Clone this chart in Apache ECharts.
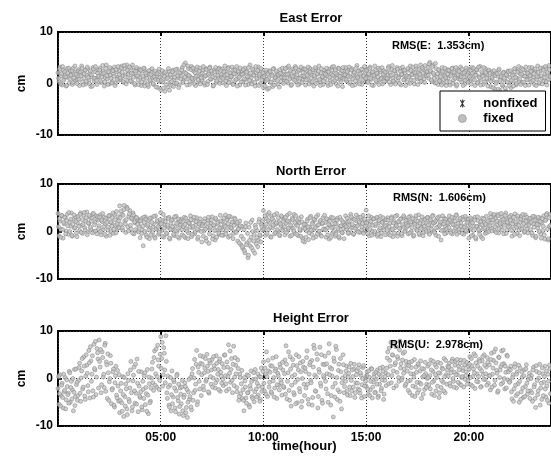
<!DOCTYPE html>
<html>
<head>
<meta charset="utf-8">
<script src="https://cdn.jsdelivr.net/npm/echarts@6/dist/echarts.min.js"></script>
<style>html,body{margin:0;padding:0;background:#fff;}#c{width:551px;height:459px;}</style>
</head>
<body>
<div id="c"></div>
<script>
// ---- data (cm), one row per hour, samples evenly spaced inside the hour ----
// set A: samples at h + j/20, set B: samples at h + (j+0.5)/20
const eastErr = [
[2.1,0.4,3.2,1.5,-0.3,2.6,0.9,1.8,-0.5,2.9,1.2,0.1,2.4,1.7,-0.2,3.0,0.6,2.2,1.4,0.8],
[2.7,-0.4,1.9,3.4,0.3,1.1,2.5,-0.1,1.6,2.9,0.7,2.0,-0.6,1.3,3.1,0.5,2.3,1.0,-0.2,2.6],
[1.4,3.0,0.2,1.8,2.4,-0.5,1.1,3.6,0.9,2.1,-0.1,1.6,2.8,0.4,1.9,3.2,0.0,2.3,1.2,0.6],
[2.5,0.8,3.4,1.5,0.2,2.9,1.7,3.6,0.6,2.2,1.0,3.1,0.3,1.9,2.6,-0.3,1.4,2.8,0.7,2.0],
[1.2,-0.4,2.4,0.9,2.9,0.1,1.6,2.2,-0.6,1.8,0.5,2.6,1.1,-0.2,2.0,0.8,1.5,-0.8,2.3,0.4],
[-1.2,1.6,0.3,2.1,-1.5,0.9,1.8,-0.7,2.4,0.2,1.3,-0.4,2.6,0.7,1.9,0.0,2.8,1.1,-0.3,2.0],
[1.4,3.1,0.5,2.2,4.0,0.9,1.7,2.9,-0.2,1.3,3.3,0.6,2.4,1.0,-0.4,2.7,1.5,0.3,3.0,1.8],
[0.7,2.5,1.2,-0.3,2.9,1.6,0.4,2.1,3.2,0.8,1.9,-0.5,2.6,1.1,0.2,2.3,1.4,3.0,0.6,1.7],
[2.8,0.1,1.5,2.4,-0.4,1.0,3.1,0.7,2.0,1.3,-0.1,2.7,0.5,1.8,3.3,0.9,2.2,-0.3,1.6,2.5],
[0.4,1.9,3.0,0.8,2.3,-0.2,1.4,3.6,1.1,0.3,2.6,1.7,-0.5,2.1,0.9,3.2,1.5,0.0,2.4,1.2],
[-0.8,1.6,0.5,2.2,-1.1,1.0,2.5,0.2,1.8,-0.6,2.9,0.7,1.3,2.0,-0.2,1.5,2.7,0.4,1.9,1.1],
[2.4,0.6,1.7,3.1,0.1,2.0,1.2,-0.4,2.8,0.9,1.5,3.3,0.3,2.2,1.0,-0.1,2.6,1.4,0.7,2.9],
[1.3,-0.3,2.5,0.8,1.9,3.0,0.2,1.6,2.3,-0.5,1.1,2.7,0.6,1.8,3.4,0.4,2.1,1.2,-0.2,2.6],
[0.9,2.2,1.5,-0.4,2.8,0.7,1.9,3.2,0.3,1.4,2.5,-0.1,1.7,3.0,0.8,2.0,1.1,-0.6,2.4,1.6],
[3.1,0.5,1.8,2.6,0.0,1.3,2.9,0.9,2.2,-0.3,1.6,3.5,1.0,0.2,2.4,1.5,-0.2,2.7,0.6,1.9],
[1.2,2.8,0.4,1.7,3.2,0.8,2.1,-0.4,1.4,2.6,0.3,1.9,3.0,0.7,2.3,1.1,-0.1,2.5,1.6,0.5],
[2.2,0.9,3.3,1.5,-0.2,2.7,1.0,0.4,2.4,1.8,3.1,0.6,1.3,2.9,-0.3,1.7,2.5,0.8,2.0,1.2],
[0.3,2.6,1.4,3.4,0.7,1.9,2.3,-0.1,1.6,3.0,0.9,2.2,1.1,3.6,0.5,2.8,1.5,0.2,2.4,1.8],
[3.2,1.0,4.1,2.3,0.4,3.6,1.7,0.1,2.9,1.2,-0.2,2.5,0.6,1.8,3.1,0.0,2.2,1.4,-0.4,2.7],
[1.1,2.4,-0.3,1.8,3.0,0.6,2.1,1.3,-0.5,2.7,0.9,1.6,3.2,0.3,2.0,1.2,-0.1,2.5,0.7,1.9],
[2.8,0.4,1.5,3.1,0.9,2.2,-0.4,1.7,2.6,0.2,1.3,3.3,0.8,2.0,-0.2,1.6,2.9,0.5,1.8,2.4],
[1.0,-0.6,2.3,0.7,1.6,-1.0,2.0,0.3,1.4,2.6,-1.3,0.9,1.8,-0.5,2.2,0.6,-1.5,1.5,2.4,0.1],
[1.2,-0.8,2.1,0.5,1.7,2.8,-0.3,1.0,2.4,0.4,1.9,3.0,0.2,1.5,2.6,-0.4,1.3,2.2,0.8,3.1],
[1.6,0.3,2.7,1.1,-0.2,2.3,0.8,3.4,1.4,0.0,2.5,1.0,3.0,0.5,1.8,2.9,-0.3,1.7,3.5,0.9]
];
const eastErrB = [
[1.0,2.8,-0.1,1.9,3.3,0.6,2.3,1.3,-0.4,2.0,3.0,0.9,1.6,2.5,0.2,1.1,3.4,1.8,0.0,2.4],
[0.8,2.2,1.5,3.0,-0.3,1.9,2.6,0.4,3.2,1.2,0.0,2.4,1.7,-0.5,2.8,1.0,3.3,0.6,2.0,1.4],
[2.6,0.5,1.3,3.5,2.0,0.3,2.9,1.5,-0.2,2.3,3.1,1.0,0.1,2.5,1.4,-0.4,2.7,0.8,3.3,1.7],
[1.1,3.0,2.2,0.4,3.5,1.3,-0.1,2.6,1.8,3.2,0.5,2.0,3.6,1.2,0.0,2.4,3.1,1.5,-0.2,2.8],
[2.6,0.3,1.4,3.0,-0.5,2.0,1.0,-0.2,2.5,0.7,1.7,2.9,0.0,1.3,2.4,-0.7,1.9,0.6,2.8,1.2],
[0.6,2.5,-0.9,1.4,2.2,-0.2,1.0,2.9,-1.3,1.7,0.4,2.3,-0.6,1.2,2.7,0.1,1.5,-0.8,2.1,0.9],
[2.6,0.2,3.6,1.2,2.0,-0.3,3.4,1.6,0.4,2.7,1.0,3.0,0.0,2.1,1.4,3.2,0.7,2.4,-0.1,1.1],
[2.0,3.3,0.1,1.5,2.7,-0.2,1.8,3.0,0.9,2.4,1.3,-0.4,2.2,3.1,0.5,1.6,2.8,0.0,2.5,1.2],
[1.0,2.3,3.4,0.5,1.7,2.9,0.2,2.1,1.4,3.2,-0.2,1.9,2.6,0.8,-0.5,2.4,1.2,3.0,0.3,1.8],
[2.7,0.9,-0.3,2.2,1.3,3.1,0.6,2.0,-0.1,2.8,1.6,0.2,3.3,1.0,2.5,-0.4,1.8,2.9,0.7,2.1],
[1.3,-0.5,2.6,0.8,1.9,-0.9,2.3,0.3,1.5,2.8,-0.3,1.1,2.4,0.6,1.7,-0.7,2.0,1.2,3.0,0.0],
[1.1,2.9,0.4,1.8,3.4,0.9,2.5,-0.2,1.4,2.2,0.6,3.0,1.7,-0.3,2.6,1.0,3.2,0.2,2.1,1.5],
[2.8,0.7,1.6,3.2,-0.1,2.2,1.1,0.3,2.7,1.5,3.1,0.0,1.9,2.4,0.8,-0.4,2.9,1.3,0.5,2.0],
[1.8,3.0,0.1,2.3,1.2,-0.2,2.6,1.6,3.3,0.6,2.0,1.0,-0.5,2.9,1.4,0.3,2.5,3.1,0.9,1.7],
[0.8,2.3,1.4,3.2,0.3,2.6,-0.4,1.7,2.1,0.5,3.0,1.2,2.4,-0.1,1.9,2.8,0.7,1.5,3.3,1.0],
[2.5,0.2,1.9,2.9,1.0,-0.3,2.3,1.6,3.4,0.6,2.0,1.3,-0.2,2.7,0.9,3.1,1.8,0.4,2.2,1.1],
[1.0,3.0,0.3,2.1,1.6,3.5,0.5,2.5,-0.1,1.4,2.8,1.1,0.0,2.3,1.8,3.2,0.7,2.6,-0.4,1.5],
[2.9,1.2,0.0,2.5,1.7,3.2,0.6,2.1,3.4,1.3,-0.2,2.7,1.8,0.4,3.1,2.0,0.9,3.5,1.5,2.3],
[1.6,3.8,2.5,0.7,3.3,2.0,1.0,3.9,0.2,1.9,2.7,0.5,1.4,-0.3,2.3,0.8,3.0,1.1,0.3,1.8],
[2.6,0.3,1.5,2.9,0.0,2.2,1.0,3.1,-0.2,1.7,2.4,0.8,1.3,2.8,-0.4,2.1,0.6,3.0,1.6,0.2],
[1.3,2.5,-0.1,2.0,3.0,0.7,1.6,2.7,0.1,3.2,1.1,-0.3,2.3,1.4,3.1,0.3,2.1,1.0,-0.5,2.6],
[2.0,0.4,1.2,-0.8,2.5,1.5,0.0,1.9,-1.1,2.8,0.6,1.3,-0.2,2.1,1.0,-0.9,1.7,0.3,2.3,-0.4],
[2.5,0.6,1.6,-0.5,2.9,1.2,0.0,2.2,3.3,0.9,-0.2,1.8,2.7,0.3,1.4,3.2,0.7,2.0,-0.3,1.5],
[2.4,3.1,0.6,1.9,2.8,-0.4,1.3,2.2,0.2,3.0,1.5,-0.1,2.6,1.2,3.3,0.4,2.1,0.8,2.7,1.4]
];
const northErr = [
[3.8,-0.9,2.2,0.5,3.3,-1.4,1.6,2.9,0.1,3.6,-0.6,2.0,1.1,3.9,-1.0,2.5,0.7,3.1,-0.3,1.8],
[2.6,0.2,3.9,1.3,-0.4,3.4,0.8,2.2,4.1,-0.1,1.7,3.0,0.5,2.8,3.7,0.0,1.9,3.3,-0.5,2.4],
[1.2,3.5,-0.7,2.1,0.4,3.0,1.6,-1.0,2.7,0.9,3.4,0.1,1.8,2.9,-0.4,3.6,1.3,4.2,0.6,2.3],
[5.4,1.5,3.7,0.3,4.6,2.2,-0.2,5.1,1.0,3.2,4.4,0.6,2.6,3.9,-0.5,1.8,3.0,0.2,2.4,1.1],
[-1.3,2.7,0.4,-3.0,1.9,3.1,-0.8,1.2,2.4,-1.5,0.7,2.9,-0.2,1.6,-1.1,3.3,0.5,2.0,-0.6,1.4],
[4.0,0.2,2.3,-1.2,1.5,2.8,-0.5,0.9,3.0,-1.6,1.8,0.4,2.5,-0.9,1.1,3.2,0.0,2.0,-1.4,1.3],
[2.6,-0.7,1.0,3.0,-1.3,0.6,2.2,-0.3,1.7,3.3,-1.1,0.8,2.4,-0.5,1.4,2.9,-1.6,0.3,2.0,1.2],
[-2.2,1.6,0.1,2.7,-1.4,0.9,2.3,-2.5,0.5,1.8,3.1,-0.9,1.2,-1.8,2.5,0.3,1.5,-0.6,3.4,0.8],
[2.1,-0.8,1.4,3.5,0.2,2.6,-1.2,1.0,3.1,0.6,1.9,-0.4,2.8,0.0,1.6,-2.0,0.7,2.2,-2.8,1.1],
[-3.6,0.4,-4.5,1.8,-2.4,-5.5,0.9,-3.0,-1.2,2.4,-4.0,-0.6,1.3,-2.6,0.2,-1.8,2.6,-0.9,1.5,0.3],
[4.4,1.0,-0.8,2.7,3.6,0.4,1.9,-1.1,3.2,0.8,2.3,-0.5,1.5,3.8,0.1,2.0,-0.9,1.2,3.0,0.6],
[2.5,-0.7,1.7,3.4,0.3,2.1,-1.0,1.0,2.8,0.6,3.6,-0.4,1.4,2.3,-0.9,1.8,0.2,3.1,-1.4,0.8],
[-2.2,1.5,0.1,2.6,-1.7,0.9,3.2,-0.6,1.9,0.4,2.4,-1.1,1.2,3.5,0.0,2.0,-0.8,1.6,2.9,0.5],
[1.9,-1.2,0.7,2.5,-1.6,1.3,3.0,-0.4,0.9,2.2,-1.0,1.6,2.8,0.2,-1.4,1.1,2.4,-0.3,0.6,1.8],
[3.3,0.5,2.0,-0.4,1.4,3.6,0.8,2.7,-0.6,1.1,2.3,0.2,3.1,1.6,-0.2,2.5,0.9,3.4,0.0,1.9],
[4.5,0.7,2.2,-0.9,1.5,3.0,0.1,2.6,-0.5,1.2,2.8,-1.0,1.8,0.4,3.2,-0.3,2.0,0.9,2.4,-0.7],
[1.3,2.9,-0.6,1.7,0.3,3.1,-1.1,2.2,0.8,1.5,3.4,-0.4,2.0,0.6,2.7,-0.9,1.1,3.0,0.2,1.9],
[2.4,-0.5,1.4,3.2,0.0,2.1,-1.0,1.7,2.8,0.5,1.2,3.5,-0.7,2.3,0.9,1.6,-0.2,2.6,0.4,1.8],
[3.0,0.7,-0.4,2.2,1.3,3.4,0.1,1.9,-0.8,2.6,0.9,3.1,1.5,-1.8,2.0,0.3,2.8,1.1,-0.3,2.4],
[1.6,3.3,0.2,2.1,-0.5,1.4,2.9,0.6,3.5,1.0,-0.2,2.5,1.8,0.4,3.0,-0.6,1.2,2.7,0.0,2.0],
[-1.4,1.7,0.5,2.6,-0.8,1.2,3.0,-1.6,0.9,2.3,0.1,1.5,-1.1,2.8,0.6,1.9,-0.4,3.2,0.3,1.3],
[2.4,3.8,0.7,1.9,3.3,0.2,2.7,1.4,3.6,-0.3,2.1,0.9,3.0,1.6,-0.5,2.5,3.9,0.4,1.8,2.9],
[1.1,3.4,-1.0,2.2,0.6,3.7,1.5,-0.4,2.8,0.3,1.9,3.2,0.8,2.4,-0.2,3.5,1.2,0.5,2.6,1.7],
[0.4,2.8,-0.8,1.6,3.1,-1.3,2.2,0.7,1.4,2.9,-0.5,1.9,0.2,3.3,-1.6,2.5,3.8,-1.8,1.0,3.6]
];
const northErrB = [
[1.0,2.7,-1.2,3.4,0.4,1.9,3.0,-0.5,2.3,1.2,4.0,0.0,2.6,-0.8,1.5,3.5,0.8,2.1,-1.1,3.2],
[1.1,3.6,-0.2,2.5,1.5,4.0,0.3,2.9,-0.7,1.8,3.4,0.9,2.2,-0.3,3.8,1.4,0.1,2.7,3.1,0.6],
[3.0,0.0,2.4,3.8,1.0,-0.6,2.8,1.9,0.3,3.3,-0.8,2.0,1.1,3.9,0.5,2.5,-0.3,1.6,3.1,0.8],
[2.9,4.3,0.8,3.4,5.5,1.6,2.5,4.8,0.1,3.7,1.3,2.8,-0.3,3.5,2.0,0.4,2.9,1.5,-0.1,2.2],
[2.2,-0.4,1.1,3.0,0.0,2.6,-1.2,1.5,0.3,2.8,-0.7,1.9,0.9,3.2,-1.4,0.6,2.3,1.0,-0.2,2.5],
[1.6,-1.0,3.6,0.7,2.1,-0.3,1.3,2.7,-1.4,0.5,2.4,1.0,-0.6,3.1,0.2,1.7,-1.1,2.6,0.8,2.2],
[0.4,2.0,-1.0,1.5,2.8,0.1,-1.5,1.8,0.9,2.5,-0.6,1.1,3.0,-0.1,2.1,0.5,-1.2,1.6,2.7,0.0],
[1.2,-1.0,2.1,0.5,-2.0,1.7,3.0,-0.5,0.9,2.4,-1.6,1.4,0.2,2.8,-1.2,1.9,-0.3,0.7,2.2,-0.8],
[0.3,2.8,1.1,-0.5,2.4,1.6,3.2,-0.9,0.8,2.0,-1.5,1.3,2.6,-0.2,1.9,0.5,-2.4,1.2,-1.0,-3.2],
[-1.6,-4.0,1.0,-2.8,-0.4,-5.0,-1.9,1.9,-3.4,0.0,-2.0,-4.6,0.8,-1.3,-3.2,2.0,-0.7,-2.2,1.0,2.3],
[0.5,3.3,1.5,-0.4,2.3,4.0,0.9,-1.2,2.7,1.3,3.5,-0.2,1.8,0.4,2.9,-0.7,1.6,3.3,0.2,2.1],
[1.0,3.0,-0.2,2.2,0.7,3.8,1.3,-0.8,2.5,0.1,1.9,3.3,-0.6,1.2,2.7,0.4,-1.0,2.0,-2.0,1.5],
[0.6,-1.2,2.2,1.0,-0.3,2.9,0.3,1.6,-1.4,2.6,0.8,3.1,-0.5,1.4,0.1,2.3,-1.0,1.8,0.5,3.4],
[0.3,2.7,-0.7,1.5,2.2,-1.3,0.8,2.9,0.0,1.7,-0.6,2.4,0.6,-1.1,3.0,1.2,-0.2,2.0,-1.5,1.3],
[1.0,2.8,-0.3,2.2,0.4,3.1,1.5,-0.5,2.5,0.7,3.5,1.2,-0.1,2.0,3.0,0.3,1.7,-0.4,2.6,1.1],
[1.8,-0.4,3.3,0.5,2.1,-0.8,1.3,2.7,0.0,1.6,3.0,-0.6,2.3,0.8,-1.1,1.9,2.9,0.3,1.2,2.5],
[0.2,2.4,1.0,-0.8,2.8,0.5,1.8,-0.3,3.2,1.2,-1.0,2.1,0.7,2.6,-0.5,1.5,3.3,0.0,2.3,0.9],
[1.2,3.0,-0.3,2.0,0.8,2.7,-0.8,1.5,3.3,0.2,2.2,-0.4,1.8,0.6,3.1,-0.9,1.1,2.5,0.0,2.9],
[1.4,-0.6,2.5,0.5,3.2,1.8,-0.2,2.2,0.8,2.9,-1.0,1.2,2.0,0.2,3.3,1.6,-0.5,2.6,0.6,1.9],
[0.8,2.4,-0.3,3.0,1.5,0.1,2.2,3.4,-0.6,1.7,0.5,2.8,1.1,-0.4,2.5,0.9,3.2,0.2,1.9,2.6],
[0.9,2.9,-0.9,1.8,0.2,2.4,-1.3,1.1,3.1,0.4,-0.6,2.0,1.4,-1.5,2.7,0.7,1.6,-0.2,2.2,0.0],
[1.2,3.0,0.1,2.4,3.6,1.0,-0.2,2.2,3.3,0.6,1.7,3.8,0.3,2.6,1.3,3.4,-0.4,2.0,1.0,3.1],
[2.4,0.2,1.6,3.0,-0.6,2.0,0.9,3.3,1.3,-0.9,2.6,0.5,3.6,1.7,0.0,2.2,3.0,-0.3,1.4,2.8],
[1.9,-0.3,3.2,0.9,2.4,-1.0,1.5,3.0,0.0,2.1,-1.4,2.7,1.1,-0.7,2.3,3.5,0.5,-1.5,2.9,1.3]
];
const heightErr = [
[-2.1,-5.4,0.8,-3.6,-1.0,-6.2,-2.8,0.2,-4.5,-1.7,-3.1,1.5,-5.0,-0.6,-2.4,-6.8,1.9,-3.8,-1.3,-4.6],
[-0.4,3.2,-4.8,1.6,-2.2,4.5,-3.7,0.5,2.8,-1.5,5.9,-4.1,3.7,0.9,-2.6,7.2,1.8,-3.4,6.3,4.1],
[8.1,2.4,-3.0,5.6,0.3,-1.9,7.4,3.5,-4.2,1.2,-0.7,4.8,-5.3,-2.1,2.0,-6.0,0.6,-3.5,1.7,-4.8],
[-7.2,-2.6,-5.1,0.4,-8.0,-3.8,-1.2,-6.4,1.0,-4.4,-2.0,3.6,-6.8,-0.5,2.4,-5.2,-3.1,4.1,-7.0,-1.6],
[-4.0,1.4,-6.6,-2.3,0.6,-5.5,-3.2,1.9,-7.4,-1.1,-4.8,0.1,3.4,-2.5,5.8,1.0,-1.8,7.0,2.6,-0.4],
[8.8,4.2,-1.6,6.5,1.8,9.0,-3.0,0.5,-5.6,-1.4,-6.8,1.6,-3.9,-0.7,-6.2,-2.6,0.9,-4.7,-7.5,-2.0],
[-5.3,-0.4,-7.8,-3.5,-1.7,-6.1,-8.2,-2.8,-4.4,0.2,-6.6,2.1,-3.0,4.0,-1.2,5.9,-4.9,1.3,-2.2,3.2],
[0.8,4.6,-2.4,2.2,-0.6,5.1,1.5,-3.1,3.3,-1.2,4.0,0.1,2.7,-2.0,4.8,-0.3,1.9,3.6,-2.7,0.5],
[3.1,-1.5,4.9,0.6,-2.6,2.4,7.1,1.1,-0.8,4.2,-3.0,6.8,0.3,2.8,-1.9,3.9,-4.6,0.9,-3.2,1.7],
[-2.4,-6.8,-0.5,-4.1,0.8,-3.0,-5.6,-1.5,1.6,-3.8,-0.2,-4.9,1.9,-2.2,-1.0,-3.5,0.5,-4.4,2.2,-1.8],
[3.5,-2.6,0.9,5.6,-3.8,1.6,-0.8,2.7,-3.1,4.3,0.2,-2.0,2.0,-4.2,1.1,-1.4,3.0,-0.3,-3.5,1.8],
[-1.9,3.9,6.9,-4.3,1.2,-2.5,4.6,-5.8,0.4,2.8,-3.4,-0.8,5.0,-5.1,1.8,-2.1,3.3,-6.0,0.0,2.4],
[-3.6,1.5,4.4,-1.2,-5.4,2.9,-0.4,3.8,-4.0,7.0,0.7,-2.7,5.2,-6.2,1.9,6.6,-1.6,-4.6,3.0,0.2],
[4.7,-2.2,1.0,-5.0,7.3,2.3,-3.6,0.5,-8.1,3.6,-1.0,6.1,-4.4,1.7,-2.8,4.2,-6.4,0.1,2.9,-1.7],
[-0.6,2.6,-3.5,1.1,-1.8,3.2,-2.6,0.4,2.0,-4.0,-0.9,1.6,-2.2,2.9,-3.1,0.7,-1.3,2.3,-3.8,0.0],
[-1.6,1.4,-3.3,0.3,-2.4,2.1,-4.1,-0.7,1.0,-2.9,-0.1,1.8,-3.7,-1.2,0.6,-2.1,2.4,-4.4,-0.4,1.2],
[2.2,5.6,-1.1,3.8,7.6,0.6,4.9,-2.0,2.9,6.7,1.3,4.2,-0.6,7.9,3.1,0.1,5.3,2.0,-1.6,3.6],
[1.6,-2.5,3.4,-0.4,2.3,-3.6,0.9,4.0,-1.8,1.3,-3.0,2.8,-0.9,3.7,-4.2,0.3,2.0,-2.3,1.0,-1.2],
[2.6,-1.4,0.6,3.9,-3.3,1.5,-0.5,2.9,-2.6,0.2,3.4,-4.0,1.1,-1.9,2.2,-0.8,4.2,-3.0,0.8,1.8],
[0.5,3.2,-1.6,2.0,4.1,-0.6,1.3,3.6,-2.0,0.8,2.6,-1.1,3.9,0.2,1.7,-1.8,2.9,0.6,3.4,-0.4],
[1.9,4.6,-1.3,2.7,0.4,5.2,-2.1,3.3,1.0,-0.7,4.0,2.1,-1.7,3.7,0.8,5.0,-0.2,2.4,4.4,-1.0],
[2.9,-2.4,5.3,0.9,3.8,-1.4,6.2,1.7,-2.9,4.5,0.2,2.5,5.8,-0.9,3.1,-2.2,1.3,4.9,-0.3,2.0],
[-0.6,2.6,-4.3,0.8,-2.2,3.1,-3.6,1.4,-1.1,-5.0,2.2,-2.8,0.3,-4.0,1.8,-1.7,2.9,-3.3,-0.2,1.1],
[-2.6,0.6,-4.8,2.4,-1.3,-6.1,1.5,-3.4,0.1,3.0,-2.0,-4.4,1.0,-0.8,2.6,-3.9,-1.6,0.9,-5.2,2.1]
];
const heightErrB = [
[0.4,-3.2,-5.8,-1.4,-4.0,0.9,-2.5,-6.4,-0.3,-3.4,-5.2,1.2,-1.9,-4.3,0.0,-2.9,-5.7,2.0,-0.8,-3.6],
[2.3,-3.1,0.1,4.2,-1.8,2.6,-4.4,5.0,1.1,-2.8,3.3,6.7,-0.6,4.8,-3.9,2.1,7.8,0.3,5.4,-2.0],
[3.6,6.1,-1.3,4.4,0.9,7.0,-2.7,2.9,5.2,-4.6,0.0,3.2,-2.4,1.4,-5.6,-0.9,2.6,-4.1,-1.6,0.8],
[-4.6,-1.0,-6.9,-3.4,0.2,-5.8,-2.2,-7.6,-0.4,-4.9,1.8,-3.0,-6.0,0.7,-2.6,3.0,-5.4,-1.0,1.5,-3.7],
[-2.8,-6.0,-0.6,-4.2,1.2,-1.9,-6.9,-3.5,0.3,-5.1,-2.0,2.0,-0.9,4.4,-1.4,6.2,0.4,3.9,-2.3,5.1],
[2.2,7.6,0.8,5.3,-0.9,3.6,-4.2,-1.8,-6.0,0.2,-3.4,-5.3,-0.3,-2.0,-7.0,0.6,-4.0,-1.2,-5.9,-3.3],
[-1.8,-6.8,-4.0,-0.9,-7.2,-2.3,-5.0,-0.2,-3.8,-6.0,1.0,-4.6,0.1,-2.5,3.0,-5.5,2.4,-0.6,4.8,-3.6],
[3.0,-1.6,1.2,4.2,-0.2,2.6,-2.8,3.8,0.4,1.8,-1.8,4.6,2.0,-0.9,3.2,0.9,-2.3,4.1,1.3,-1.0],
[-0.2,2.3,5.0,-1.1,3.5,0.4,-2.2,5.8,1.9,-0.4,3.0,-1.5,4.4,1.0,-2.8,2.1,-3.8,0.2,-1.1,-4.2],
[-4.6,0.2,-1.8,-5.2,-3.0,0.6,-6.0,-2.2,-0.6,-4.2,1.2,-2.8,-0.1,-3.9,1.0,-1.6,-4.8,0.3,-2.7,1.5],
[-1.0,2.2,-3.3,0.4,3.8,-1.8,1.3,-2.8,2.6,-0.5,-3.9,1.6,4.6,-1.3,0.6,-2.4,2.3,-0.9,3.4,-1.7],
[1.0,-3.3,3.0,-0.6,5.6,-4.6,2.0,-1.4,4.0,-3.0,0.8,-5.3,2.7,-0.2,4.6,-2.8,1.4,-4.8,3.6,-1.2],
[2.2,-2.0,5.8,-4.4,0.9,3.4,-0.9,-5.6,2.4,6.3,-2.6,0.3,4.0,-3.8,1.3,-1.0,5.0,-5.2,0.6,2.9],
[-0.6,3.1,-3.2,5.4,0.8,-5.6,2.0,-1.8,4.3,-3.9,6.8,0.2,-2.4,3.0,-4.8,1.4,-0.9,5.0,-3.0,0.6],
[1.6,-2.6,0.3,2.4,-3.6,-0.4,1.8,-1.8,3.0,-3.0,0.8,-1.0,2.2,-2.4,1.2,-4.1,0.0,2.7,-1.6,-0.6],
[0.6,-2.2,1.6,-3.6,-0.6,2.0,-1.8,0.3,-3.0,1.3,-1.2,-4.0,0.9,2.2,-2.6,-0.3,1.5,-3.3,0.4,-1.5],
[4.3,0.8,6.4,2.6,-0.9,5.0,1.6,7.3,3.3,-1.5,4.6,0.2,6.0,2.2,-0.3,3.9,1.1,5.6,-1.2,2.8],
[-0.6,2.7,-3.0,1.0,3.6,-1.6,0.3,-3.8,2.4,-0.8,3.1,-2.4,1.6,-1.2,2.1,-3.3,0.6,3.4,-1.9,0.0],
[0.2,3.0,-2.2,1.8,-0.8,3.6,-3.6,0.8,2.4,-1.6,1.2,-3.0,3.2,-0.4,2.0,-2.6,0.4,3.8,-1.2,2.6],
[2.4,-1.0,1.2,3.6,0.0,-1.8,2.8,0.8,4.0,-0.8,1.8,3.2,-1.4,0.4,2.2,3.8,-0.2,1.4,-1.2,2.6],
[3.0,0.2,4.2,-1.6,2.0,1.2,4.8,-0.6,2.6,0.4,3.6,-1.8,1.6,4.6,-0.2,2.8,1.0,-1.4,3.4,0.6],
[0.6,4.0,-1.8,2.2,5.6,-0.4,3.3,1.1,-2.6,4.4,1.8,-1.2,3.0,6.0,0.0,2.6,-2.0,4.7,1.4,-0.8],
[1.8,-2.8,0.2,-4.8,2.4,-1.4,0.9,-3.2,2.8,-0.6,-4.4,1.4,-2.0,0.6,-3.8,2.0,-1.0,-2.6,0.4,-4.2],
[0.0,-3.0,1.8,-1.8,-4.2,2.7,-0.4,-2.6,1.2,-5.6,-1.0,2.2,-3.6,0.4,-2.2,1.6,-4.6,-0.6,2.8,-3.2]
];
const titles = ['East Error', 'North Error', 'Height Error'];
const rmsLabels = ['RMS(E:  1.353cm)', 'RMS(N:  1.606cm)', 'RMS(U:  2.978cm)'];
const xTickValues = [5, 10, 15, 20];
const xTickLabels = ['05:00', '10:00', '15:00', '20:00'];
const yTickValues = [-10, 0, 10];
const yTickLabels = ['-10', '0', '10'];
const legendNames = ['nonfixed', 'fixed'];
// -------------------------------------------------------------------------

function toPoints(rowsA, rowsB) {
  const pts = [];
  rowsA.forEach((row, h) => row.forEach((v, j) => pts.push([h + j / row.length, v])));
  rowsB.forEach((row, h) => row.forEach((v, j) => pts.push([h + (j + 0.5) / row.length, v])));
  return pts;
}
const FONT = 'Liberation Sans, Arial, sans-serif';
const grids = [
  {left: 58, top: 32, width: 496, height: 103},
  {left: 58, top: 184, width: 496, height: 95},
  {left: 58, top: 331, width: 496, height: 95}
];
const titleTops = [7, 160, 307];
const rmsPos = [[392, 40], [393, 192], [390, 339]];
const asterisk = 'path://M4.4,0L5.6,0L5.6,10L4.4,10Z M3.02,0.37L8.02,9.03L6.98,9.63L1.98,0.97Z M6.98,0.37L8.02,0.97L3.02,9.63L1.98,9.03Z';

const xFmt = v => { const i = xTickValues.indexOf(v); return i >= 0 ? xTickLabels[i] : ''; };
const yFmt = v => { const i = yTickValues.indexOf(v); return i >= 0 ? yTickLabels[i] : ''; };

const xAxes = [], yAxes = [], series = [];
grids.forEach((g, k) => {
  xAxes.push({
    type: 'value', gridIndex: k, min: 0, max: 24, interval: 5, position: 'bottom',
    axisLine: {show: false},
    axisTick: {show: true, inside: true, length: 4, lineStyle: {color: '#000', width: 2}},
    axisLabel: {show: k === 2, formatter: xFmt, color: '#000', fontFamily: FONT, fontWeight: 'bold', fontSize: 12, margin: 6, showMinLabel: false, showMaxLabel: false},
    splitLine: {show: true, lineStyle: {color: '#333', type: [1, 2], width: 1}},
    name: k === 2 ? 'time(hour)' : '', nameLocation: 'middle', nameGap: 14, nameMoveOverlap: false,
    nameTextStyle: {color: '#000', fontFamily: FONT, fontWeight: 'bold', fontSize: 13}
  });
  xAxes.push({
    type: 'value', gridIndex: k, min: 0, max: 24, interval: 5, position: 'top',
    axisLine: {show: false},
    axisTick: {show: true, inside: true, length: 4, lineStyle: {color: '#000', width: 2}},
    axisLabel: {show: false}, splitLine: {show: false}
  });
  yAxes.push({
    type: 'value', gridIndex: k, min: -10, max: 10, interval: 10,
    axisLine: {show: false},
    axisTick: {show: true, inside: true, length: 4, lineStyle: {color: '#000', width: 1.5}},
    axisLabel: {formatter: yFmt, color: '#000', fontFamily: FONT, fontWeight: 'bold', fontSize: 12, margin: 5},
    splitLine: {show: true, lineStyle: {color: '#333', type: [1, 2], width: 1}},
    name: 'cm', nameLocation: 'middle', nameGap: 30, nameRotate: 90, nameMoveOverlap: false,
    nameTextStyle: {color: '#000', fontFamily: FONT, fontWeight: 'bold', fontSize: 12}
  });
});
const dataSets = [[eastErr, eastErrB], [northErr, northErrB], [heightErr, heightErrB]];
dataSets.forEach((d, k) => {
  series.push({
    name: legendNames[1], type: 'scatter', xAxisIndex: 2 * k, yAxisIndex: k,
    data: toPoints(d[0], d[1]), symbol: 'circle', symbolSize: 4,
    itemStyle: {color: '#c4c4c4', borderColor: '#848484', borderWidth: 0.7},
    emphasis: {disabled: true}, silent: true
  });
});
series.push({
  name: legendNames[0], type: 'scatter', xAxisIndex: 0, yAxisIndex: 0,
  data: [], symbol: asterisk, symbolSize: 7, itemStyle: {color: '#000'}
});

const chart = echarts.init(document.getElementById('c'), null, {renderer: 'canvas'});
chart.setOption({
  animation: false,
  backgroundColor: '#fff',
  title: titles.map((t, k) => ({
    text: t, left: 306, top: titleTops[k], textAlign: 'center',
    textStyle: {color: '#000', fontFamily: FONT, fontWeight: 'bold', fontSize: 13}
  })),
  grid: grids.map(g => Object.assign({show: true, borderColor: '#000', borderWidth: 2, backgroundColor: 'rgba(0,0,0,0)'}, g)),
  xAxis: xAxes,
  yAxis: yAxes,
  legend: {
    left: 440, top: 91, orient: 'vertical',
    data: [
      {name: legendNames[0], icon: asterisk, itemStyle: {color: '#000'}},
      {name: legendNames[1], icon: 'circle', itemStyle: {color: '#b0b0b0', borderColor: '#848484', borderWidth: 0.7}}
    ],
    itemWidth: 8, itemHeight: 8, itemGap: 2,
    padding: [6, 8, 6, 18],
    backgroundColor: '#fff', borderColor: '#000', borderWidth: 1,
    textStyle: {color: '#000', fontFamily: FONT, fontWeight: 'bold', fontSize: 13, lineHeight: 13, padding: [0, 0, 0, 12]},
    selectedMode: false
  },
  graphic: rmsLabels.map((t, k) => ({
    type: 'text', left: rmsPos[k][0], top: rmsPos[k][1], z: 100,
    style: {text: t, fill: '#000', font: 'bold 11px ' + FONT}
  })),
  series: series
});
</script>
</body>
</html>
